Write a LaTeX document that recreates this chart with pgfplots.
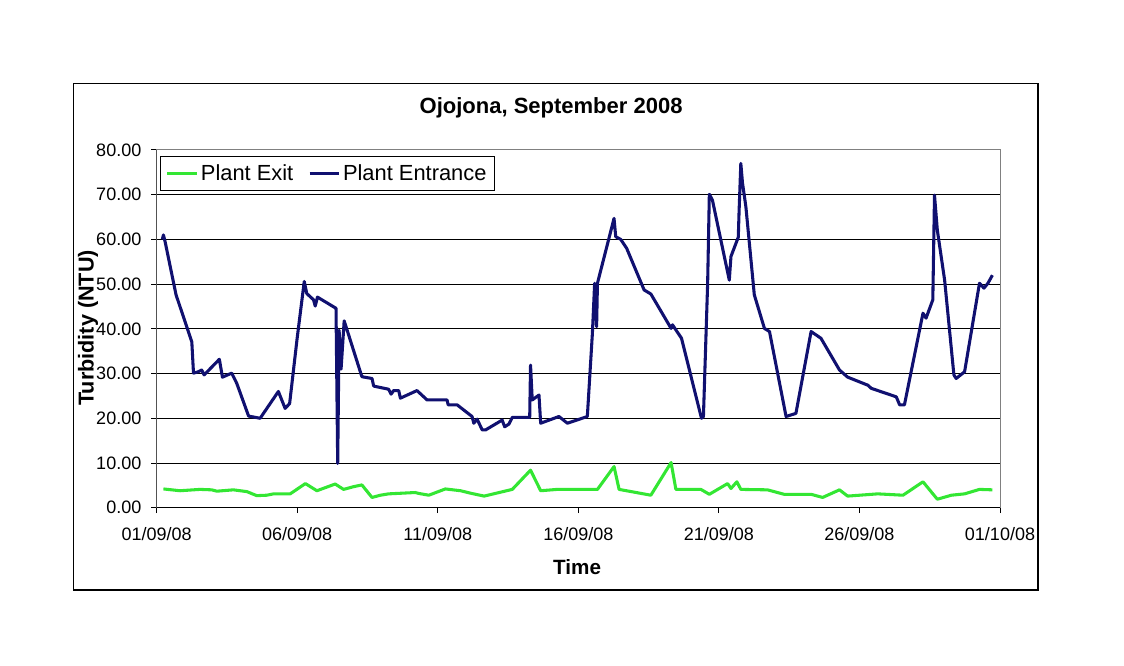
\documentclass[border=0pt]{standalone}
\usepackage{fontspec}
\setmainfont{Liberation Sans}
\usepackage{pgfplots}
\pgfplotsset{compat=1.18}
\definecolor{exitgreen}{RGB}{51,230,51}
\definecolor{entnavy}{RGB}{16,16,112}
\begin{document}
\begin{tikzpicture}
\path[use as bounding box] (0,0) rectangle (843pt,499.5pt);
\draw[black, line width=0.9pt] (55pt,57pt) rectangle (778.5pt,437pt);
\begin{axis}[
  at={(117.5pt,118.7pt)}, anchor=south west,
  scale only axis, width=632.5pt, height=268.3pt,
  xmin=0, xmax=30, ymin=0, ymax=80,
  xtick={0,5,10,15,20,25,30},
  xticklabels={01/09/08,06/09/08,11/09/08,16/09/08,21/09/08,26/09/08,01/10/08},
  ytick={0,10,...,80},
  yticklabel={\pgfmathprintnumber[fixed,fixed zerofill,precision=2]{\tick}},
  /pgf/number format/assume math mode=true,
  tick label style={font=\fontsize{13.5}{16}\selectfont},
  yticklabel style={xshift=-4pt},
  xticklabel style={yshift=-7pt},
  tick align=outside, tick pos=left, major tick length=4pt,
  every tick/.style={black, line width=0.75pt},
  ymajorgrids, grid style={black, line width=0.75pt},
  axis line style={gray, line width=0.75pt},
  legend columns=2,
  legend style={at={(0.004,0.983)}, anchor=north west, draw=black, line width=0.75pt,
    font=\fontsize{16.4}{19}\selectfont, inner xsep=4pt, inner ysep=4pt,
    /tikz/every even column/.append style={column sep=9pt}},
  legend image code/.code={\draw[#1] (0pt,0pt) -- (22pt,0pt);},
]
\addplot[exitgreen, line width=2.3pt, line join=round] coordinates {
(0.24,4.2)(0.83,3.8)(1.54,4.1)(1.96,4.0)(2.14,3.7)(2.73,4.0)(3.21,3.6)(3.56,2.7)(3.92,2.8)(4.16,3.1)(4.75,3.1)(5.29,5.4)(5.7,3.8)(6.35,5.3)(6.65,4.1)(7.0,4.7)(7.3,5.1)(7.66,2.3)(7.96,2.8)(8.25,3.1)(9.2,3.4)(9.32,3.2)(9.68,2.8)(10.27,4.2)(10.81,3.8)(11.2,3.2)(11.65,2.6)(12.65,4.1)(13.3,8.4)(13.66,3.8)(14.25,4.1)(15.68,4.1)(16.27,9.2)(16.45,4.1)(17.58,2.8)(18.3,10.1)(18.47,4.1)(19.36,4.1)(19.66,3.0)(20.31,5.4)(20.43,4.3)(20.64,5.8)(20.78,4.1)(21.73,4.0)(22.32,3.0)(23.28,3.0)(23.69,2.3)(24.29,4.0)(24.58,2.6)(25.65,3.1)(26.55,2.8)(27.26,5.8)(27.77,1.9)(28.27,2.8)(28.74,3.1)(29.27,4.1)(29.73,4.0)
};
\addlegendentry{Plant Exit}
\addplot[entnavy, line width=2.3pt, line join=round] coordinates {
(0.2,60.0)(0.24,61.0)(0.3,59.5)(0.69,47.6)(1.25,37.1)(1.31,30.1)(1.48,30.4)(1.6,30.8)(1.69,29.7)(2.23,33.2)(2.34,29.2)(2.67,30.1)(2.85,27.8)(3.27,20.5)(3.68,20.0)(4.33,26.0)(4.57,22.2)(4.73,23.3)(4.99,37.5)(5.25,50.6)(5.34,47.9)(5.58,46.5)(5.64,45.1)(5.72,47.1)(6.38,44.6)(6.44,9.9)(6.49,39.7)(6.56,31.0)(6.67,41.8)(7.3,29.3)(7.66,28.9)(7.72,27.2)(8.25,26.5)(8.34,25.4)(8.43,26.2)(8.61,26.2)(8.67,24.5)(9.26,26.2)(9.5,24.8)(9.62,24.1)(10.33,24.1)(10.37,23.0)(10.69,23.0)(11.22,20.4)(11.28,18.9)(11.4,19.8)(11.58,17.4)(11.7,17.4)(12.29,19.6)(12.38,18.1)(12.53,18.7)(12.65,20.2)(13.27,20.2)(13.3,31.9)(13.36,24.1)(13.6,25.2)(13.66,18.9)(14.31,20.4)(14.61,18.9)(15.32,20.4)(15.5,39.0)(15.58,50.2)(15.65,40.5)(15.68,50.2)(16.27,64.7)(16.33,60.6)(16.51,60.0)(16.72,58.0)(17.34,48.7)(17.58,47.8)(18.3,40.1)(18.35,40.9)(18.67,37.9)(19.38,20.0)(19.45,20.4)(19.6,50.2)(19.66,70.1)(19.77,68.8)(20.37,50.9)(20.43,56.2)(20.69,60.5)(20.72,66.6)(20.78,77.0)(20.84,72.6)(20.96,67.3)(21.26,47.6)(21.62,40.1)(21.8,39.4)(22.39,20.4)(22.74,21.1)(23.28,39.4)(23.63,37.9)(24.29,30.8)(24.58,29.2)(25.3,27.4)(25.42,26.7)(26.31,24.8)(26.43,23.0)(26.6,23.0)(27.26,43.5)(27.37,42.4)(27.61,46.5)(27.67,69.9)(27.77,62.1)(28.03,50.9)(28.36,29.7)(28.44,28.9)(28.74,30.4)(29.27,50.2)(29.43,49.1)(29.57,50.2)(29.73,52.0)
};
\addlegendentry{Plant Entrance}
\draw[black, line width=0.75pt] (rel axis cs:0,1) -- (rel axis cs:0,0) -- (rel axis cs:1,0);
\end{axis}
\node[font=\bfseries\fontsize{16.5}{19}\selectfont] at (413.3pt,418.5pt) {Ojojona, September 2008};
\node[font=\bfseries\fontsize{16.2}{19}\selectfont, rotate=90] at (66pt,253.5pt) {Turbidity (NTU)};
\node[font=\bfseries\fontsize{15.5}{18}\selectfont] at (432.8pt,74.3pt) {Time};
\end{tikzpicture}
\end{document}
